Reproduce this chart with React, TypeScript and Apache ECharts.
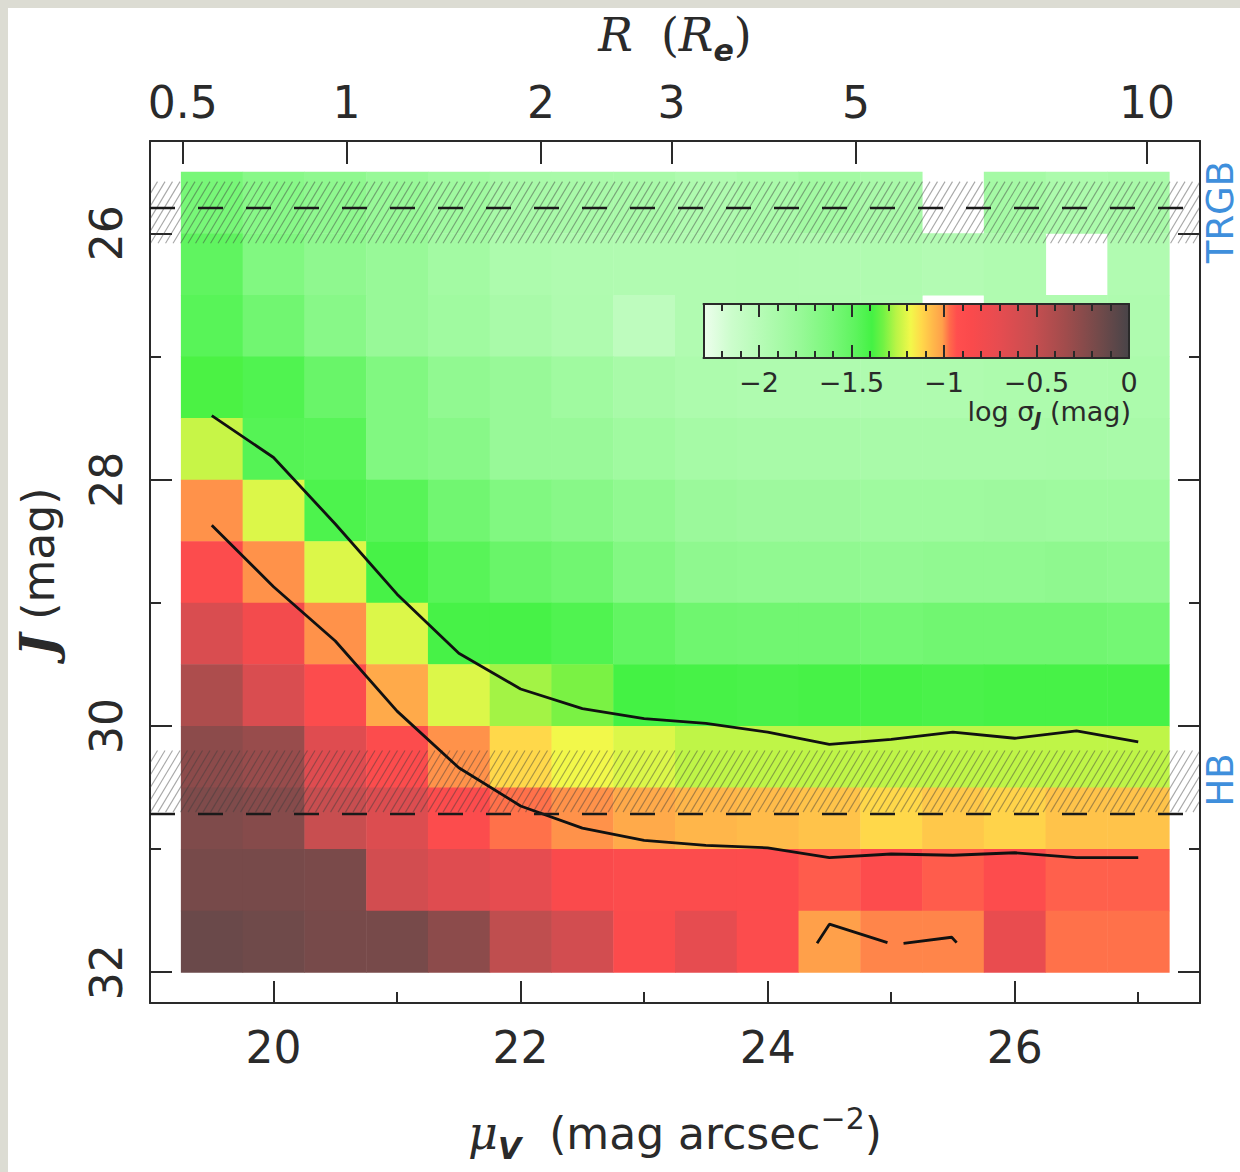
import React, { useEffect, useRef } from 'react';
import * as echarts from 'echarts';

// ---- bins ----
const MU_CENTERS = [19.5, 20.0, 20.5, 21.0, 21.5, 22.0, 22.5, 23.0, 23.5, 24.0, 24.5, 25.0, 25.5, 26.0, 26.5, 27.0];
const J_CENTERS = [25.75, 26.25, 26.75, 27.25, 27.75, 28.25, 28.75, 29.25, 29.75, 30.25, 30.75, 31.25, 31.75];
const BIN = 0.5;

// ---- log sigma_J per cell (rows = J bins, cols = mu bins); null = empty ----
const LOG_SIGMA: (number | null)[][] = [
  [-1.60, -1.69, -1.73, -1.78, -1.84, -1.89, -1.90, -1.90, -1.94, -1.91, -1.86, -1.90, null, -1.87, -1.92, -1.90],
  [-1.49, -1.65, -1.73, -1.78, -1.86, -1.93, -1.95, -1.96, -1.96, -1.95, -1.96, -1.95, -1.97, -1.95, null, -1.96],
  [-1.46, -1.57, -1.69, -1.78, -1.84, -1.90, -1.94, -2.05, -1.96, -1.95, -1.95, -1.96, null, -1.95, -1.95, -1.94],
  [-1.38, -1.43, -1.53, -1.65, -1.74, -1.78, -1.84, -1.89, -1.93, -1.94, -1.94, -1.94, -1.94, -1.93, -1.93, -1.92],
  [-1.24, -1.45, -1.46, -1.65, -1.69, -1.78, -1.79, -1.84, -1.88, -1.89, -1.89, -1.90, -1.90, -1.90, -1.89, -1.90],
  [-1.00, -1.21, -1.42, -1.46, -1.57, -1.65, -1.69, -1.74, -1.80, -1.82, -1.82, -1.83, -1.83, -1.82, -1.83, -1.83],
  [-0.88, -1.00, -1.21, -1.40, -1.46, -1.53, -1.57, -1.66, -1.73, -1.74, -1.74, -1.75, -1.74, -1.74, -1.73, -1.74],
  [-0.62, -0.80, -1.00, -1.21, -1.40, -1.40, -1.43, -1.50, -1.56, -1.57, -1.57, -1.58, -1.57, -1.57, -1.57, -1.58],
  [-0.40, -0.62, -0.88, -1.03, -1.21, -1.28, -1.32, -1.39, -1.40, -1.41, -1.40, -1.40, -1.41, -1.40, -1.40, -1.40],
  [-0.26, -0.31, -0.66, -0.88, -1.00, -1.12, -1.18, -1.21, -1.25, -1.25, -1.25, -1.25, -1.25, -1.25, -1.25, -1.25],
  [-0.21, -0.24, -0.52, -0.64, -0.88, -0.975, -1.00, -1.03, -1.055, -1.065, -1.08, -1.12, -1.09, -1.11, -1.08, -1.08],
  [-0.18, -0.18, -0.19, -0.58, -0.66, -0.70, -0.85, -0.88, -0.88, -0.90, -0.95, -0.90, -0.95, -0.90, -0.955, -0.955],
  [-0.13, -0.15, -0.18, -0.18, -0.26, -0.48, -0.58, -0.86, -0.70, -0.88, -1.01, -0.99, -0.99, -0.72, -0.975, -0.975],
];

// ---- completeness curves (J at each mu center) ----
const UPPER_CURVE_J = [27.48, 27.82, 28.36, 28.93, 29.41, 29.70, 29.86, 29.94, 29.98, 30.05, 30.15, 30.11, 30.05, 30.10, 30.04, 30.13];
const LOWER_CURVE_J = [28.37, 28.87, 29.31, 29.88, 30.34, 30.65, 30.83, 30.93, 30.97, 30.99, 31.07, 31.04, 31.05, 31.03, 31.07, 31.07];
const BROKEN_CURVE_A = [[24.40, 31.765], [24.50, 31.61], [24.97, 31.76]];
const BROKEN_CURVE_B = [[25.10, 31.765], [25.49, 31.716], [25.53, 31.76]];

// ---- reference levels ----
const TRGB_J = 25.785;
const HB_J = 30.71;
const TRGB_BAND = [25.58, 26.08];
const HB_BAND = [30.2, 30.7];

// ---- axes ----
const MU_RANGE = [19, 27.5];
const J_RANGE = [25.25, 32.25];
const MU_MAJOR = [20, 22, 24, 26];
const MU_MINOR = [21, 23, 25, 27];
const J_MAJOR = [26, 28, 30, 32];
const J_MINOR = [27, 29, 31];
const R_TICKS = [0.5, 1, 2, 3, 5, 10];
const MU_EFF = 20.59;      // mu_V at R = 1 R_e
const DEV_SLOPE = 8.327;   // de Vaucouleurs: 2.5 b_4 / ln 10
const muFromR = (r: number) => MU_EFF + DEV_SLOPE * (Math.pow(r, 0.25) - 1);
const R_MU = R_TICKS.map(muFromR);

// ---- colour bar ----
const CB_RANGE = [-2.3, 0];
const CB_MAJOR = [-2, -1.5, -1, -0.5];
const CB_LABELS = [-2, -1.5, -1, -0.5, 0];
const CB_MINOR = [-2.2, -2.1, -1.9, -1.8, -1.7, -1.6, -1.4, -1.3, -1.2, -1.1, -0.9, -0.8, -0.7, -0.6, -0.4, -0.3, -0.2, -0.1];
const COLOR_STOPS: [number, string][] = [
  [-2.30, '#eefeee'],
  [-2.15, '#ccfdcc'],
  [-1.95, '#b0fbb0'],
  [-1.78, '#98f998'],
  [-1.60, '#78f778'],
  [-1.48, '#5ef45e'],
  [-1.39, '#44f244'],
  [-1.33, '#70f244'],
  [-1.26, '#b8f446'],
  [-1.18, '#f2f84a'],
  [-1.12, '#ffd84a'],
  [-1.06, '#ffb84a'],
  [-1.01, '#ffa04a'],
  [-0.97, '#ff6a4a'],
  [-0.93, '#ff4e4e'],
  [-0.85, '#fa4a4c'],
  [-0.70, '#e64c50'],
  [-0.52, '#c84e50'],
  [-0.34, '#a04c4c'],
  [-0.16, '#724a4a'],
  [0.00, '#484448'],
];

function hexRgb(h: string) {
  const n = parseInt(h.slice(1), 16);
  return [(n >> 16) & 255, (n >> 8) & 255, n & 255];
}
function colorAt(v: number) {
  for (let i = 0; i < COLOR_STOPS.length - 1; i++) {
    const [v0, c0] = COLOR_STOPS[i];
    const [v1, c1] = COLOR_STOPS[i + 1];
    if (v <= v1 + 1e-9) {
      const t = Math.max(0, Math.min(1, (v - v0) / (v1 - v0)));
      const a = hexRgb(c0), b = hexRgb(c1);
      const m = a.map((x, k) => Math.round(x + (b[k] - x) * t));
      return `rgb(${m[0]},${m[1]},${m[2]})`;
    }
  }
  return COLOR_STOPS[COLOR_STOPS.length - 1][1];
}
const COLOR_SCALE: string[] = [];
for (let k = 0; k <= 230; k++) COLOR_SCALE.push(colorAt(CB_RANGE[0] + k * 0.01));

const FONT = 'DejaVu Sans';
const INK = '#2a2a2a';
const AXIS_LINE = { show: true, onZero: false, lineStyle: { color: INK, width: 2 } };
const NO_LINE = { show: false, onZero: false };
const TICK = (len: number, vals: number[]) => ({ show: true, inside: true, length: len, customValues: vals, lineStyle: { color: INK, width: 2 } });

function buildOption() {
  const heatData: number[][] = [];
  J_CENTERS.forEach((j, r) =>
    MU_CENTERS.forEach((m, c) => {
      const v = LOG_SIGMA[r][c];
      if (v !== null) heatData.push([m, j, v]);
    })
  );

  const hatchData = [
    [MU_RANGE[0], TRGB_BAND[0], MU_RANGE[1], TRGB_BAND[1]],
    [MU_RANGE[0], HB_BAND[0], MU_RANGE[1], HB_BAND[1]],
  ];

  const lineBase = {
    type: 'line',
    xAxisIndex: 0,
    yAxisIndex: 0,
    showSymbol: false,
    symbol: 'none',
    silent: true,
    z: 4,
    lineStyle: { color: '#111', width: 2.8 },
  };

  return {
    animation: false,
    backgroundColor: 'transparent',
    grid: [
      { left: 150, top: 140, width: 1050, height: 863 },
      { left: 703.5, top: 304, width: 425.5, height: 54 },
    ],
    visualMap: {
      show: false,
      type: 'continuous',
      min: CB_RANGE[0],
      max: CB_RANGE[1],
      dimension: 2,
      seriesIndex: 0,
      inRange: { color: COLOR_SCALE },
    },
    xAxis: [
      {
        gridIndex: 0, type: 'value', position: 'bottom', min: MU_RANGE[0], max: MU_RANGE[1],
        axisLine: AXIS_LINE, axisTick: TICK(22, MU_MAJOR), splitLine: { show: false },
        axisLabel: { customValues: MU_MAJOR, fontSize: 44, fontFamily: FONT, color: INK, margin: 22 },
        name: '{mu|μ}{sub|V}  (mag arcsec{sup|−2})',
        nameLocation: 'middle', nameGap: 100,
        nameTextStyle: {
          fontSize: 44, fontFamily: FONT, color: INK, lineHeight: 60,
          rich: {
            mu: { fontSize: 46, fontFamily: 'DejaVu Serif', fontStyle: 'italic', color: INK, lineHeight: 60 },
            sub: { fontSize: 30, fontFamily: FONT, fontWeight: 'bold', fontStyle: 'italic', color: INK, lineHeight: 30, verticalAlign: 'bottom' },
            sup: { fontSize: 30, fontFamily: FONT, color: INK, lineHeight: 30, verticalAlign: 'top' },
          },
        },
      },
      {
        gridIndex: 0, type: 'value', position: 'bottom', min: MU_RANGE[0], max: MU_RANGE[1],
        axisLine: NO_LINE, axisTick: TICK(11, MU_MINOR), axisLabel: { show: false }, splitLine: { show: false },
      },
      {
        gridIndex: 0, type: 'value', position: 'top', min: MU_RANGE[0], max: MU_RANGE[1],
        axisLine: AXIS_LINE, axisTick: TICK(23, R_MU), splitLine: { show: false },
        axisLabel: {
          customValues: R_MU, fontSize: 44, fontFamily: FONT, color: INK, margin: 17,
          formatter: (v: number) => {
            const i = R_MU.findIndex((m) => Math.abs(m - v) < 1e-6);
            return i >= 0 ? String(R_TICKS[i]) : '';
          },
        },
        name: '{r|R}  {p|(}{r|R}{sub|e}{p|)}',
        nameLocation: 'middle', nameGap: 76,
        nameTextStyle: {
          fontSize: 44, fontFamily: FONT, color: INK, lineHeight: 60,
          rich: {
            r: { fontSize: 46, fontFamily: 'DejaVu Serif', fontStyle: 'italic', color: INK, lineHeight: 60 },
            p: { fontSize: 46, fontFamily: 'DejaVu Serif', color: INK, lineHeight: 60 },
            sub: { fontSize: 30, fontFamily: FONT, fontWeight: 'bold', fontStyle: 'italic', color: INK, lineHeight: 26, verticalAlign: 'bottom' },
          },
        },
      },
      {
        gridIndex: 1, type: 'value', position: 'bottom', min: CB_RANGE[0], max: CB_RANGE[1], z: 10,
        axisLine: AXIS_LINE, axisTick: TICK(13, CB_MAJOR), splitLine: { show: false },
        axisLabel: {
          customValues: CB_LABELS, fontSize: 27, fontFamily: FONT, color: INK, margin: 11,
          formatter: (v: number) => (v === 0 ? '0' : String(v).replace('-', '−')),
        },
      },
      {
        gridIndex: 1, type: 'value', position: 'bottom', min: CB_RANGE[0], max: CB_RANGE[1], z: 10,
        axisLine: NO_LINE, axisTick: TICK(7, CB_MINOR), axisLabel: { show: false }, splitLine: { show: false },
      },
      {
        gridIndex: 1, type: 'value', position: 'top', min: CB_RANGE[0], max: CB_RANGE[1], z: 10,
        axisLine: AXIS_LINE, axisTick: TICK(13, CB_MAJOR), axisLabel: { show: false }, splitLine: { show: false },
      },
      {
        gridIndex: 1, type: 'value', position: 'top', min: CB_RANGE[0], max: CB_RANGE[1], z: 10,
        axisLine: NO_LINE, axisTick: TICK(7, CB_MINOR), axisLabel: { show: false }, splitLine: { show: false },
      },
    ],
    yAxis: [
      {
        gridIndex: 0, type: 'value', position: 'left', min: J_RANGE[0], max: J_RANGE[1], inverse: true,
        axisLine: AXIS_LINE, axisTick: TICK(22, J_MAJOR), splitLine: { show: false },
        axisLabel: { customValues: J_MAJOR, rotate: 90, fontSize: 44, fontFamily: FONT, color: INK, margin: 22 },
        name: '{j|J} (mag)',
        nameLocation: 'middle', nameGap: 84,
        nameTextStyle: {
          fontSize: 44, fontFamily: FONT, color: INK, lineHeight: 56,
          rich: {
            j: { fontSize: 48, fontFamily: 'DejaVu Serif', fontStyle: 'italic', fontWeight: 'bold', color: INK, lineHeight: 56 },
          },
        },
      },
      {
        gridIndex: 0, type: 'value', position: 'left', min: J_RANGE[0], max: J_RANGE[1], inverse: true,
        axisLine: NO_LINE, axisTick: TICK(11, J_MINOR), axisLabel: { show: false }, splitLine: { show: false },
      },
      {
        gridIndex: 0, type: 'value', position: 'right', min: J_RANGE[0], max: J_RANGE[1], inverse: true,
        axisLine: AXIS_LINE, axisTick: TICK(22, J_MAJOR), axisLabel: { show: false }, splitLine: { show: false },
      },
      {
        gridIndex: 0, type: 'value', position: 'right', min: J_RANGE[0], max: J_RANGE[1], inverse: true,
        axisLine: NO_LINE, axisTick: TICK(11, J_MINOR), axisLabel: { show: false }, splitLine: { show: false },
      },
      {
        gridIndex: 1, type: 'value', position: 'left', min: 0, max: 1, z: 10,
        axisLine: AXIS_LINE, axisTick: { show: false }, axisLabel: { show: false }, splitLine: { show: false },
      },
      {
        gridIndex: 1, type: 'value', position: 'right', min: 0, max: 1, z: 10,
        axisLine: AXIS_LINE, axisTick: { show: false }, axisLabel: { show: false }, splitLine: { show: false },
      },
    ],
    series: [
      {
        type: 'custom',
        xAxisIndex: 0,
        yAxisIndex: 0,
        z: 2,
        silent: true,
        encode: { x: 0, y: 1 },
        data: heatData,
        renderItem: (_p: any, api: any) => {
          const m = api.value(0), j = api.value(1);
          const a = api.coord([m - BIN / 2, j - BIN / 2]);
          const b = api.coord([m + BIN / 2, j + BIN / 2]);
          return {
            type: 'rect',
            shape: {
              x: Math.min(a[0], b[0]),
              y: Math.min(a[1], b[1]),
              width: Math.abs(b[0] - a[0]) + 0.5,
              height: Math.abs(b[1] - a[1]) + 0.5,
            },
            style: { fill: api.visual('color') },
          };
        },
      },
      {
        type: 'custom',
        xAxisIndex: 0,
        yAxisIndex: 0,
        z: 3,
        silent: true,
        encode: { x: [0, 2], y: [1, 3] },
        data: hatchData,
        renderItem: (_p: any, api: any) => {
          const a = api.coord([api.value(0), api.value(1)]);
          const b = api.coord([api.value(2), api.value(3)]);
          const x0 = Math.min(a[0], b[0]), x1 = Math.max(a[0], b[0]);
          const yT = Math.min(a[1], b[1]), yB = Math.max(a[1], b[1]);
          const h = yB - yT;
          const slant = h * 0.6;
          const children: any[] = [];
          for (let s = x0 - slant; s < x1; s += 7.5) {
            let ax = s, ay = yB, bx = s + slant, by = yT;
            if (ax < x0) { const t = (x0 - ax) / slant; ax = x0; ay = yB - t * h; }
            if (bx > x1) { const t = (bx - x1) / slant; bx = x1; by = yT + t * h; }
            if (bx <= ax) continue;
            children.push({
              type: 'line',
              shape: { x1: ax, y1: ay, x2: bx, y2: by },
              style: { stroke: 'rgba(60,60,60,0.45)', lineWidth: 1.1 },
            });
          }
          return { type: 'group', children };
        },
      },
      {
        ...lineBase,
        data: MU_CENTERS.map((m, i) => [m, UPPER_CURVE_J[i]]),
        markLine: {
          silent: true,
          symbol: ['none', 'none'],
          label: { show: false },
          lineStyle: { type: [25, 23], color: '#1a1a1a', width: 2.4 },
          data: [{ yAxis: TRGB_J }, { yAxis: HB_J }],
        },
      },
      { ...lineBase, data: MU_CENTERS.map((m, i) => [m, LOWER_CURVE_J[i]]) },
      { ...lineBase, data: BROKEN_CURVE_A },
      { ...lineBase, data: BROKEN_CURVE_B },
      {
        type: 'custom',
        xAxisIndex: 3,
        yAxisIndex: 4,
        z: 5,
        silent: true,
        encode: { x: [0, 2], y: [1, 3] },
        data: [[CB_RANGE[0], 0, CB_RANGE[1], 1]],
        renderItem: (_p: any, api: any) => {
          const a = api.coord([api.value(0), api.value(1)]);
          const b = api.coord([api.value(2), api.value(3)]);
          const span = CB_RANGE[1] - CB_RANGE[0];
          const grad = new echarts.graphic.LinearGradient(
            0, 0, 1, 0,
            COLOR_STOPS.map(([v, c]) => ({ offset: (v - CB_RANGE[0]) / span, color: c }))
          );
          return {
            type: 'rect',
            shape: {
              x: Math.min(a[0], b[0]),
              y: Math.min(a[1], b[1]),
              width: Math.abs(b[0] - a[0]),
              height: Math.abs(b[1] - a[1]),
            },
            style: { fill: grad },
          };
        },
      },
    ],
    graphic: [
      {
        type: 'text', x: 1220, y: 212, rotation: Math.PI / 2, z: 100, silent: true,
        style: {
          text: 'TRGB', fill: '#3f8fdc', fontSize: 37, fontFamily: FONT,
          align: 'center', verticalAlign: 'middle', textAlign: 'center', textVerticalAlign: 'middle',
        },
      },
      {
        type: 'text', x: 1220, y: 780, rotation: Math.PI / 2, z: 100, silent: true,
        style: {
          text: 'HB', fill: '#3f8fdc', fontSize: 37, fontFamily: FONT,
          align: 'center', verticalAlign: 'middle', textAlign: 'center', textVerticalAlign: 'middle',
        },
      },
      {
        type: 'text', x: 1131, y: 411, z: 100, silent: true,
        style: {
          text: 'log σ{s|J} (mag)', fill: INK, fontSize: 27, fontFamily: FONT, lineHeight: 34,
          align: 'right', verticalAlign: 'middle', textAlign: 'right', textVerticalAlign: 'middle',
          rich: {
            s: { fontSize: 19, fontFamily: FONT, fontWeight: 'bold', fontStyle: 'italic', fill: INK, lineHeight: 18, verticalAlign: 'bottom' },
          },
        },
      },
    ],
  };
}

export default function App() {
  const ref = useRef<HTMLDivElement>(null);
  useEffect(() => {
    document.body.style.margin = '0';
    document.body.style.background = '#dcdcd3';
    const chart = echarts.init(ref.current!, null, { renderer: 'svg' });
    chart.setOption(buildOption() as any);
    return () => chart.dispose();
  }, []);
  return (
    <div style={{ position: 'relative', width: 1240, height: 1172, background: '#dcdcd3', overflow: 'hidden' }}>
      <div style={{ position: 'absolute', left: 8, top: 8, width: 1232, height: 1164, background: '#ffffff' }} />
      <div ref={ref} style={{ position: 'absolute', left: 0, top: 0, width: 1240, height: 1172 }} />
    </div>
  );
}
